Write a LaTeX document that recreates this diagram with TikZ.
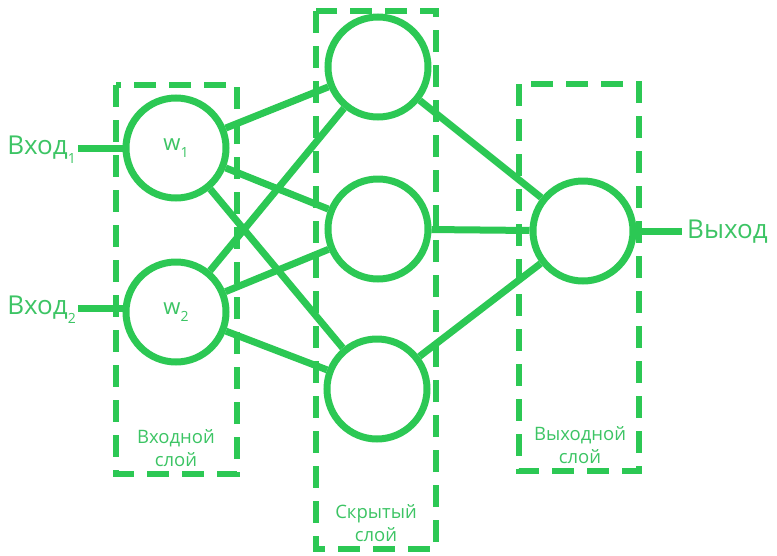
\documentclass[tikz,border=0pt]{standalone}
\usepackage{fontspec}
\setmainfont{Open Sans}
\definecolor{netgreen}{RGB}{44,200,84}
\definecolor{labelgreen}{RGB}{60,196,100}
\begin{document}
\begin{tikzpicture}[x=1pt,y=-1pt,
  neuron/.style={circle,draw=netgreen,line width=7pt,minimum size=100pt,inner sep=0pt,fill=white},
  link/.style={draw=netgreen,line width=7pt},
  layerbox/.style={draw=netgreen,line width=6pt,dash pattern=on 22pt off 13pt},
  bigtext/.style={text=labelgreen,font=\fontsize{26}{26}\selectfont,inner sep=0pt},
  smalltext/.style={text=labelgreen,font=\fontsize{18.5}{23}\selectfont,align=center,inner sep=0pt}]
  \useasboundingbox (0,0) rectangle (777,555);
  \newcommand{\lowsub}[1]{\raisebox{-0.35em}{\fontsize{14}{14}\selectfont #1}}

  % layer frames
  \draw[layerbox] (116,85) rectangle (237,474);
  \draw[layerbox] (316,11) rectangle (436,549);
  \draw[layerbox] (519,84) rectangle (639,471);

  % neurons
  \node[neuron] (w1) at (176,148) {};
  \node[neuron] (w2) at (176,312) {};
  \node[neuron] (h1) at (378,67) {};
  \node[neuron] (h2) at (378,229) {};
  \node[neuron] (h3) at (377,389) {};
  \node[neuron] (o) at (583,231) {};

  % weights inside the input neurons
  \node[text=labelgreen,font=\fontsize{22}{22}\selectfont] at (w1) {w\lowsub{1}};
  \node[text=labelgreen,font=\fontsize{22}{22}\selectfont] at (w2) {w\lowsub{2}};

  % connections
  \foreach \a in {w1,w2}
    \foreach \b in {h1,h2,h3}
      \draw[link] (\a) -- (\b);
  \foreach \b in {h1,h2,h3}
    \draw[link] (\b) -- (o);

  % inputs and output
  \node[bigtext,anchor=east] (x1) at (76,150) {Вход\lowsub{1}};
  \node[bigtext,anchor=east] (x2) at (76,310) {Вход\lowsub{2}};
  \node[bigtext,anchor=west] (y) at (687,232) {Выход};
  \draw[link] (x1.east) ++(2,-2) coordinate (x1e) -- (x1e -| w1.west);
  \draw[link] (x2.east) ++(2,-2) coordinate (x2e) -- (x2e -| w2.west);
  \draw[link] (o.east) -- ([xshift=-5pt]y.west |- o.east);

  % layer captions
  \node[smalltext] (lin) at (176,448) {Входной\\слой};
  \node[smalltext] (lhid) at (376,523) {Скрытый\\слой};
  \node[smalltext] (lout) at (580,445) {Выходной\\слой};
\end{tikzpicture}
\end{document}
